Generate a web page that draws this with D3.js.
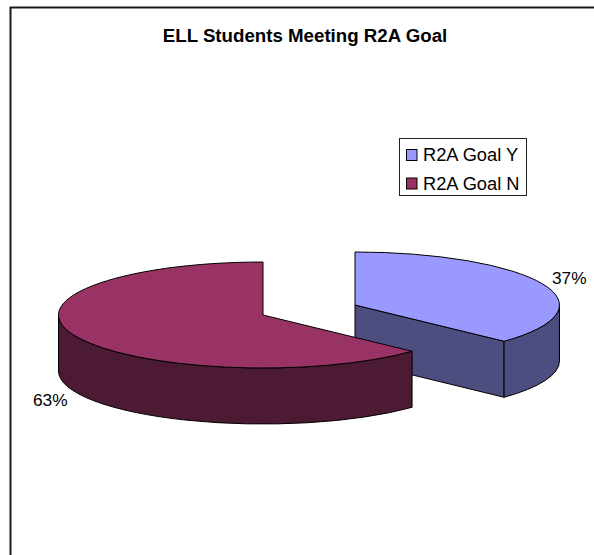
<!DOCTYPE html>
<html><head><meta charset="utf-8">
<script src="https://cdnjs.cloudflare.com/ajax/libs/d3/7.8.5/d3.min.js"></script>
<style>html,body{margin:0;padding:0;background:#fff}svg{display:block}text{font-family:"Liberation Sans",Arial,sans-serif;fill:#000}</style>
</head><body><svg id="c" width="594" height="555"></svg>
<script>
const chartTitle = "ELL Students Meeting R2A Goal";
const categories = ["R2A Goal Y", "R2A Goal N"];
const values = [37, 63];
const valueLabels = ["37%", "63%"];
const topColors = ["#9999FF", "#993366"];
const sideColors = ["#4D4D80", "#4D1A33"];

const svg = d3.select("#c");
const rx = 204.5, ry = 53, depth = 56;
const centers = [[355, 305], [263, 315]];
const labelPos = [[552, 284], [33, 406]];
const PI = Math.PI;

svg.append("path").attr("d", "M10.5,555V7.5H594").attr("fill", "none").attr("stroke", "#1a1a1a").attr("stroke-width", 2);

svg.append("text").attr("x", 305).attr("y", 42).attr("text-anchor", "middle")
  .attr("font-size", 18.7).attr("font-weight", "bold").text(chartTitle);

const arcs = d3.pie().sort(null).value(d => d)(values);
const sweep = d => d.endAngle - d.startAngle;
const pt = (a, c, dy = 0) => [c[0] + rx * Math.sin(a), c[1] - ry * Math.cos(a) + dy];

function outerWall(a0, a1, c) {
  const p0 = pt(a0, c), p1 = pt(a1, c), p2 = pt(a1, c, depth), p3 = pt(a0, c, depth);
  return `M${p0}A${rx},${ry} 0 0 1 ${p1}L${p2}A${rx},${ry} 0 0 0 ${p3}Z`;
}
function topFace(a0, a1, c) {
  const p0 = pt(a0, c), p1 = pt(a1, c);
  return `M${c}L${p0}A${rx},${ry} 0 ${a1 - a0 > PI ? 1 : 0} 1 ${p1}Z`;
}
const style = sel => sel.attr("stroke", "#000").attr("stroke-width", 1).attr("stroke-linejoin", "round");

arcs.forEach((d, i) => {
  const c = centers[i], g = svg.append("g");
  if (i === 0) {
    // Y slice: clockwise from 12 o'clock, with its radial cut visible
    const a1 = sweep(d), q = pt(a1, c), q2 = pt(a1, c, depth);
    g.append("path").attr("d", `M${c}L${q}L${q2}L${c[0]},${c[1] + depth}Z`).attr("fill", sideColors[i]).call(style);
    g.append("path").attr("d", outerWall(PI / 2, a1, c)).attr("fill", sideColors[i]).call(style);
    g.append("path").attr("d", topFace(0, a1, c)).attr("fill", topColors[i]).call(style);
  } else {
    // N slice: anticlockwise from 12 o'clock, only the front rim is visible
    const a0 = 2 * PI - sweep(d);
    g.append("path").attr("d", outerWall(a0, 3 * PI / 2, c)).attr("fill", sideColors[i]).call(style);
    g.append("path").attr("d", topFace(a0, 2 * PI, c)).attr("fill", topColors[i]).call(style);
  }
  svg.append("text").attr("x", labelPos[i][0]).attr("y", labelPos[i][1]).attr("font-size", 17.3).text(valueLabels[i]);
});

const lg = svg.append("g");
lg.append("rect").attr("x", 399.5).attr("y", 138.5).attr("width", 127).attr("height", 57).attr("fill", "#fff").attr("stroke", "#222");
const ly = d3.scalePoint().domain(categories).range([155, 183.5]);
categories.forEach((k, i) => {
  lg.append("rect").attr("x", 406.5).attr("y", ly(k) - 5.5).attr("width", 10.5).attr("height", 11).attr("fill", topColors[i]).attr("stroke", "#000");
  lg.append("text").attr("x", 423).attr("y", ly(k) + 6).attr("font-size", 18.3).text(k);
});
</script></body></html>
